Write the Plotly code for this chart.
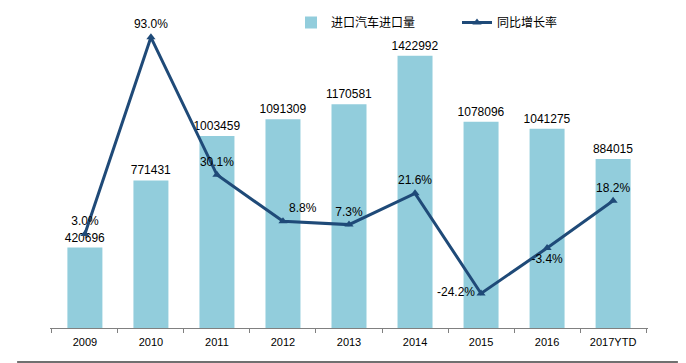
import plotly.graph_objects as go

categories = ["2009", "2010", "2011", "2012", "2013", "2014", "2015", "2016", "2017YTD"]
imports = [420696, 771431, 1003459, 1091309, 1170581, 1422992, 1078096, 1041275, 884015]
growth = [3.0, 93.0, 30.1, 8.8, 7.3, 21.6, -24.2, -3.4, 18.2]
growth_pos = ["top center", "top center", "top center", "top right", "top center",
              "top center", "middle left", "bottom center", "top center"]

BAR = "#92CDDC"
LINE = "#1F4A78"
FONT = "Liberation Sans, Arial, Noto Sans CJK SC, sans-serif"

fig = go.Figure()
fig.add_trace(go.Bar(
    x=categories, y=imports, name="进口汽车进口量",
    marker=dict(color=BAR, line=dict(width=0)),
    text=[str(v) for v in imports], textposition="outside",
    constraintext="none", textangle=0,
    textfont=dict(size=12, color="#000000"), cliponaxis=False,
))
fig.add_trace(go.Scatter(
    x=categories, y=growth, name="同比增长率", yaxis="y2",
    mode="lines+markers+text",
    line=dict(color=LINE, width=3),
    marker=dict(symbol="triangle-up", size=8, color=LINE),
    text=[f"{v:.1f}%" for v in growth], textposition=growth_pos,
    textfont=dict(size=12, color="#000000"), cliponaxis=False,
))

fig.update_layout(
    width=678, height=355,
    margin=dict(l=42, r=38, t=14, b=35, autoexpand=False),
    paper_bgcolor="white", plot_bgcolor="white",
    font=dict(family=FONT, size=12, color="#000000"),
    bargap=0.47,
    showlegend=True,
    legend=dict(orientation="h", xref="container", yref="container",
                x=0.4174, y=1.0, xanchor="left", yanchor="top",
                font=dict(size=12, family="Noto Sans CJK SC, sans-serif"),
                entrywidth=121, bgcolor="rgba(0,0,0,0)"),
    xaxis=dict(showline=True, linecolor="#808080", linewidth=1,
               ticks="outside", tickson="boundaries", ticklen=4, tickcolor="#808080",
               ticklabelstandoff=4,
               tickfont=dict(size=11), showgrid=False),
    yaxis=dict(range=[0, 1600000], visible=False, showgrid=False),
    yaxis2=dict(range=[-40, 100], overlaying="y", side="right", visible=False, showgrid=False),
    shapes=[dict(type="line", xref="paper", yref="paper", x0=-0.055, x1=1.05,
                 y0=-0.111, y1=-0.111, line=dict(color="#404040", width=1.5))],
)

fig.write_html("out.html")
